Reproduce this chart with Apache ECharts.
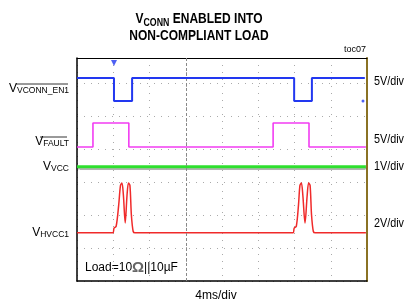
<!DOCTYPE html>
<html>
<head>
<meta charset="utf-8">
<script src="https://cdn.jsdelivr.net/npm/echarts@6/dist/echarts.min.js"></script>
<style>
html, body { margin: 0; padding: 0; background: #fff; }
#chart { width: 407px; height: 307px; }
</style>
</head>
<body>
<div id="chart"></div>
<script>
// traces in screen divisions: x 0..8, y 0 on the lowest dotted row
const vconnEn1 = [[0, 5.45], [1.02, 5.45], [1.02, 4.76], [1.52, 4.76], [1.52, 5.45], [5.99, 5.45], [5.99, 4.76], [6.48, 4.76], [6.48, 5.45], [7.94, 5.45]];
const vFault = [[0, 3.36], [0.44, 3.36], [0.44, 4.09], [1.43, 4.09], [1.43, 3.36], [5.41, 3.36], [5.41, 4.09], [6.40, 4.09], [6.40, 3.36], [7.97, 3.36]];
const vVcc = [[0, 2.76], [7.97, 2.76]];
const vHvcc1 = [[0, 0.76], [0.99, 0.76], [1.02, 0.9], [1.08, 0.96], [1.15, 1.6], [1.2, 2.2], [1.24, 2.27], [1.28, 1.9], [1.33, 1.06], [1.38, 1.9], [1.42, 2.27], [1.46, 2.2], [1.5, 1.3], [1.55, 0.8], [1.6, 0.76],
  [5.96, 0.76], [5.99, 0.9], [6.05, 0.96], [6.11, 1.6], [6.15, 2.2], [6.19, 2.27], [6.23, 1.9], [6.29, 1.06], [6.35, 1.9], [6.39, 2.27], [6.43, 2.2], [6.47, 1.3], [6.52, 0.8], [6.57, 0.76], [7.97, 0.76]];
const triggerMark = [[1.02, 5.91]];
const strayDot = [[7.89, 4.76]];

const traceNames = ['VCONN_EN1', 'FAULT', 'VCC', 'HVCC1'];
const scaleLabels = ['5V/div', '5V/div', '1V/div', '2V/div'];

const font = '"Liberation Sans", Arial, sans-serif';

const leftY = [89, 142, 167, 233];
const rightY = [82, 140, 167, 224];
const overline = [[16, 68, 84], [40, 67, 137], null, null];

const graphic = [];
traceNames.forEach((n, i) => {
  graphic.push({
    type: 'text',
    style: {
      text: '{v|V}{s|' + n + '}',
      x: 69, y: leftY[i], align: 'right', verticalAlign: 'middle',
      rich: {
        v: { fontSize: 12, fontFamily: font, fill: '#000', lineHeight: 13, verticalAlign: 'top' },
        s: { fontSize: 8.5, fontFamily: font, fill: '#000', lineHeight: 10, padding: [7, 0, 0, 0], verticalAlign: 'bottom' }
      }
    }
  });
  if (overline[i]) {
    graphic.push({
      type: 'line',
      shape: { x1: overline[i][0], y1: overline[i][2], x2: overline[i][1], y2: overline[i][2] },
      style: { stroke: '#000', lineWidth: 0.8 }
    });
  }
});
scaleLabels.forEach((t, i) => {
  graphic.push({
    type: 'text', x: 374, y: rightY[i], scaleX: 0.9,
    style: { text: t, x: 0, y: 0, verticalAlign: 'middle', font: '12px ' + font, fill: '#000' }
  });
});
graphic.push({
  type: 'text', x: 199, y: 11, scaleX: 0.8,
  style: {
    text: '{b|V}{bs|CONN}{b| ENABLED INTO}\n{b|NON-COMPLIANT LOAD}',
    x: 0, y: 0, align: 'center',
    rich: {
      b: { fontSize: 15, fontWeight: 'bold', fontFamily: font, fill: '#000', lineHeight: 17, verticalAlign: 'top' },
      bs: { fontSize: 11, fontWeight: 'bold', fontFamily: font, fill: '#000', lineHeight: 11, padding: [7, 0, 0, 0], verticalAlign: 'bottom' }
    }
  }
});
graphic.push({ type: 'text', style: { text: 'toc07', x: 366, y: 50, align: 'right', verticalAlign: 'middle', font: '9px ' + font, fill: '#000' } });
graphic.push({ type: 'text', style: { text: '4ms/div', x: 216, y: 296, align: 'center', verticalAlign: 'middle', font: '12px ' + font, fill: '#000' } });
graphic.push({
  type: 'text',
  style: {
    text: '{t|Load=10}{o|Ω}{t|||10µF}',
    x: 85, y: 268, verticalAlign: 'middle',
    rich: {
      t: { fontSize: 12, fontFamily: font, fill: '#000' },
      o: { fontSize: 15, fontFamily: font, fill: '#666', fontWeight: 'bold' }
    }
  }
});

const chart = echarts.init(document.getElementById('chart'), null, { renderer: 'canvas' });
chart.setOption({
  animation: false,
  backgroundColor: '#fff',
  grid: { left: 77, right: 40, top: 58, bottom: 26 },
  xAxis: [{
    type: 'value', min: 0, max: 8, interval: 1,
    axisLine: { show: true, onZero: false, lineStyle: { color: '#000', width: 1.5 } },
    axisTick: { show: false }, axisLabel: { show: false },
    splitLine: { show: true, lineStyle: { color: '#aaa', type: [1, 6], width: 1 } }
  }, {
    type: 'value', min: 0, max: 8, position: 'top',
    axisLine: { show: true, onZero: false, lineStyle: { color: '#000', width: 1 } },
    axisTick: { show: false }, axisLabel: { show: false }, splitLine: { show: false }
  }],
  yAxis: [{
    type: 'value', min: -0.7, max: 6.06, interval: 1,
    axisLine: { show: true, onZero: false, lineStyle: { color: '#000', width: 1.5 } },
    axisTick: { show: false }, axisLabel: { show: false },
    splitLine: { show: true, lineStyle: { color: '#aaa', type: [1, 6], width: 1 } }
  }, {
    type: 'value', min: -0.7, max: 6.06, position: 'right',
    axisLine: { show: true, onZero: false, lineStyle: { color: '#8a7224', width: 2 } },
    axisTick: { show: false }, axisLabel: { show: false }, splitLine: { show: false }
  }],
  graphic: graphic,
  series: [
    {
      type: 'line', data: vVcc, symbol: 'none', z: 3,
      lineStyle: { color: '#2ee02e', width: 3, shadowColor: 'rgba(0,0,0,0.3)', shadowOffsetY: 2, shadowBlur: 1 },
      markLine: {
        silent: true, symbol: 'none', label: { show: false },
        lineStyle: { color: '#888', type: [3, 2], width: 1 },
        data: [{ xAxis: 3 }]
      }
    },
    { type: 'line', data: vFault, symbol: 'none', z: 4, lineStyle: { color: '#f23cf2', width: 1.6 } },
    { type: 'line', data: vconnEn1, symbol: 'none', z: 5, lineStyle: { color: '#2238f0', width: 2 } },
    { type: 'line', data: vHvcc1, symbol: 'none', smooth: 0.3, z: 4, lineStyle: { color: '#f02a2a', width: 1.5 } },
    { type: 'scatter', data: triggerMark, symbol: 'triangle', symbolRotate: 180, symbolSize: 6, itemStyle: { color: '#2238f0' }, z: 6 },
    { type: 'scatter', data: strayDot, symbolSize: 3, itemStyle: { color: '#2238f0' }, z: 6 }
  ]
});
</script>
</body>
</html>
